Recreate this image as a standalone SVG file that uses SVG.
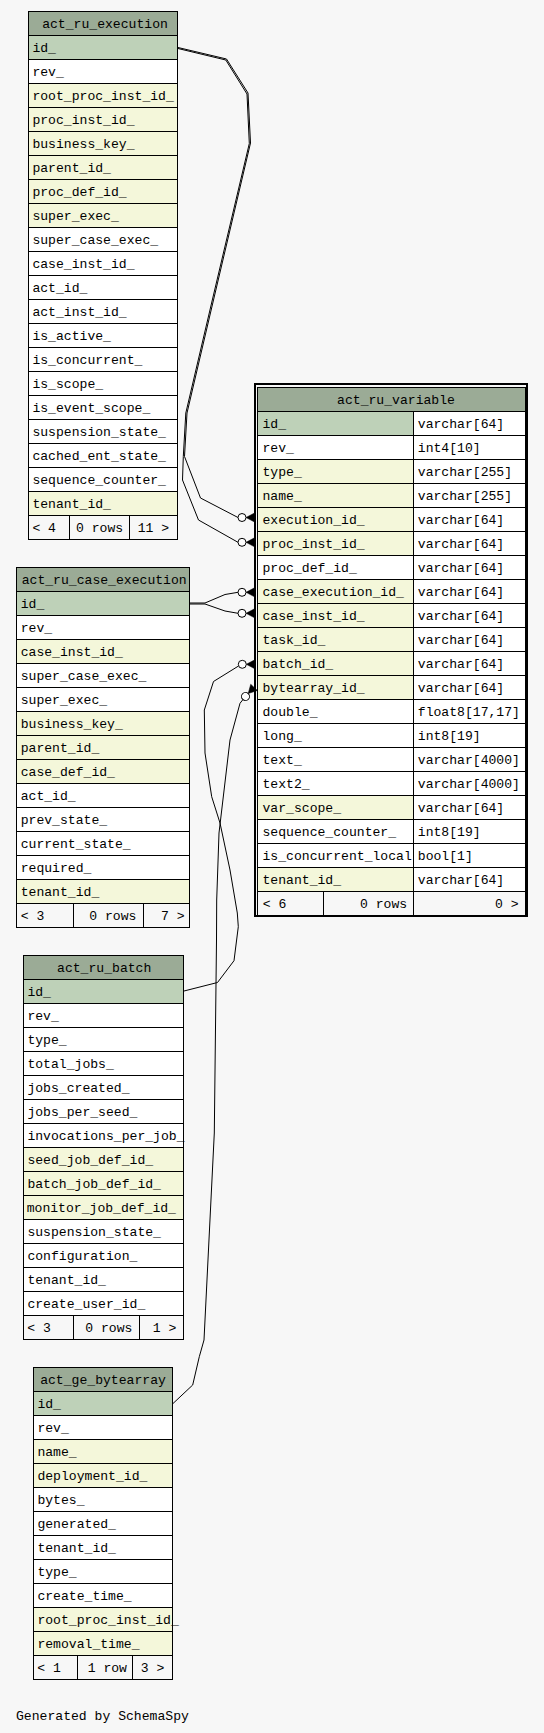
<svg xmlns="http://www.w3.org/2000/svg" xmlns:xlink="http://www.w3.org/1999/xlink" width="544" height="1733" viewBox="0 0 544 1733">
<style>
.tbl rect{stroke:#000;stroke-width:1}
.h{fill:#9bab96}
.pk{fill:#bed1b8}
.ix{fill:#f4f7da}
.w{fill:#ffffff}
.f{fill:#f7f7f7}
text{font-family:"Liberation Mono","DejaVu Sans Mono",monospace;font-size:13.1px;fill:#000}
.m{text-anchor:middle}
#edges path{fill:none;stroke:#000;stroke-width:1;stroke-linejoin:round}
</style>
<defs>
<g id="co"><path d="M4,0 L12.5,-4.5 L12.5,4.5 Z" fill="#000" stroke="#000" stroke-width="0.5"/><circle cx="0" cy="0" r="4" fill="#ffffff" stroke="#000" stroke-width="1"/></g>
</defs>
<rect x="0" y="0" width="544" height="1733" fill="#f7f7f7"/>

<g id="edges">
<path d="M178,47.5 L226.5,59 L248,93 L250.5,143 L213.5,300 L187,413 L184.5,456.5 L200.5,498 L238,517.5"/>
<path d="M178,48.5 L225.8,60 L247,94 L249.3,143.5 L212.3,300 L185.8,413 L183.3,456.5 L182.5,480 L198.5,520 L238,542.3"/>
<path d="M189.5,603 L205,603 L225,594.5 L238,592.3"/>
<path d="M189.5,604 L205,604 L225,611 L238,613.3"/>
<path d="M184,991 L217.5,982.5 L234,960.7 L238.3,926.7 L237.3,913 L230,870 L220,823 L211.7,796.7 L205,753 L204.3,710 L213.5,681.5 L238.5,666"/>
<path d="M173,1403.5 L192.7,1385 L199.3,1356.7 L204,1340 L214.3,1133 L216.5,940 L216.7,900 L219,833 L230,740 L240,703.3 L243,699.5"/>
<use xlink:href="#co" href="#co" transform="translate(242,517.5)"/>
<use xlink:href="#co" href="#co" transform="translate(242,542.3)"/>
<use xlink:href="#co" href="#co" transform="translate(242,592.3)"/>
<use xlink:href="#co" href="#co" transform="translate(242,613.3)"/>
<use xlink:href="#co" href="#co" transform="translate(242.3,664.3)"/>
<use xlink:href="#co" href="#co" transform="translate(245.5,696.5) rotate(-47)"/>
</g>

<g id="act_ru_execution" class="tbl">
<rect class="h" x="28.5" y="11.5" width="149" height="24"/>
<rect class="pk" x="28.5" y="35.5" width="149" height="24"/>
<rect class="w" x="28.5" y="59.5" width="149" height="24"/>
<rect class="ix" x="28.5" y="83.5" width="149" height="24"/>
<rect class="ix" x="28.5" y="107.5" width="149" height="24"/>
<rect class="ix" x="28.5" y="131.5" width="149" height="24"/>
<rect class="ix" x="28.5" y="155.5" width="149" height="24"/>
<rect class="ix" x="28.5" y="179.5" width="149" height="24"/>
<rect class="ix" x="28.5" y="203.5" width="149" height="24"/>
<rect class="w" x="28.5" y="227.5" width="149" height="24"/>
<rect class="w" x="28.5" y="251.5" width="149" height="24"/>
<rect class="w" x="28.5" y="275.5" width="149" height="24"/>
<rect class="w" x="28.5" y="299.5" width="149" height="24"/>
<rect class="w" x="28.5" y="323.5" width="149" height="24"/>
<rect class="w" x="28.5" y="347.5" width="149" height="24"/>
<rect class="w" x="28.5" y="371.5" width="149" height="24"/>
<rect class="w" x="28.5" y="395.5" width="149" height="24"/>
<rect class="w" x="28.5" y="419.5" width="149" height="24"/>
<rect class="w" x="28.5" y="443.5" width="149" height="24"/>
<rect class="w" x="28.5" y="467.5" width="149" height="24"/>
<rect class="ix" x="28.5" y="491.5" width="149" height="24"/>
<rect class="f" x="28.5" y="515.5" width="41" height="24"/>
<rect class="f" x="69.5" y="515.5" width="60" height="24"/>
<rect class="f" x="129.5" y="515.5" width="48" height="24"/>
<text class="m" x="105" y="27.5">act_ru_execution</text>
<text x="32.4" y="52">id_</text>
<text x="32.4" y="76">rev_</text>
<text x="32.4" y="100">root_proc_inst_id_</text>
<text x="32.4" y="124">proc_inst_id_</text>
<text x="32.4" y="148">business_key_</text>
<text x="32.4" y="172">parent_id_</text>
<text x="32.4" y="196">proc_def_id_</text>
<text x="32.4" y="220">super_exec_</text>
<text x="32.4" y="244">super_case_exec_</text>
<text x="32.4" y="268">case_inst_id_</text>
<text x="32.4" y="292">act_id_</text>
<text x="32.4" y="316">act_inst_id_</text>
<text x="32.4" y="340">is_active_</text>
<text x="32.4" y="364">is_concurrent_</text>
<text x="32.4" y="388">is_scope_</text>
<text x="32.4" y="412">is_event_scope_</text>
<text x="32.4" y="436">suspension_state_</text>
<text x="32.4" y="460">cached_ent_state_</text>
<text x="32.4" y="484">sequence_counter_</text>
<text x="32.4" y="508">tenant_id_</text>
<text x="32.4" y="532">&lt; 4</text>
<text x="76" y="532">0 rows</text>
<text x="137.7" y="532">11 &gt;</text>
</g>

<g id="act_ru_variable" class="tbl">
<rect x="255" y="384" width="272" height="532" fill="none" style="stroke-width:2"/>
<rect class="h" x="257.5" y="387.5" width="268" height="24"/>
<rect class="pk" x="257.5" y="411.5" width="156" height="24"/>
<rect class="w" x="257.5" y="435.5" width="156" height="24"/>
<rect class="ix" x="257.5" y="459.5" width="156" height="24"/>
<rect class="ix" x="257.5" y="483.5" width="156" height="24"/>
<rect class="ix" x="257.5" y="507.5" width="156" height="24"/>
<rect class="ix" x="257.5" y="531.5" width="156" height="24"/>
<rect class="w" x="257.5" y="555.5" width="156" height="24"/>
<rect class="ix" x="257.5" y="579.5" width="156" height="24"/>
<rect class="ix" x="257.5" y="603.5" width="156" height="24"/>
<rect class="ix" x="257.5" y="627.5" width="156" height="24"/>
<rect class="ix" x="257.5" y="651.5" width="156" height="24"/>
<rect class="ix" x="257.5" y="675.5" width="156" height="24"/>
<rect class="w" x="257.5" y="699.5" width="156" height="24"/>
<rect class="w" x="257.5" y="723.5" width="156" height="24"/>
<rect class="w" x="257.5" y="747.5" width="156" height="24"/>
<rect class="w" x="257.5" y="771.5" width="156" height="24"/>
<rect class="ix" x="257.5" y="795.5" width="156" height="24"/>
<rect class="w" x="257.5" y="819.5" width="156" height="24"/>
<rect class="w" x="257.5" y="843.5" width="156" height="24"/>
<rect class="ix" x="257.5" y="867.5" width="156" height="24"/>
<rect class="w" x="413.5" y="411.5" width="112" height="24"/>
<rect class="w" x="413.5" y="435.5" width="112" height="24"/>
<rect class="w" x="413.5" y="459.5" width="112" height="24"/>
<rect class="w" x="413.5" y="483.5" width="112" height="24"/>
<rect class="w" x="413.5" y="507.5" width="112" height="24"/>
<rect class="w" x="413.5" y="531.5" width="112" height="24"/>
<rect class="w" x="413.5" y="555.5" width="112" height="24"/>
<rect class="w" x="413.5" y="579.5" width="112" height="24"/>
<rect class="w" x="413.5" y="603.5" width="112" height="24"/>
<rect class="w" x="413.5" y="627.5" width="112" height="24"/>
<rect class="w" x="413.5" y="651.5" width="112" height="24"/>
<rect class="w" x="413.5" y="675.5" width="112" height="24"/>
<rect class="w" x="413.5" y="699.5" width="112" height="24"/>
<rect class="w" x="413.5" y="723.5" width="112" height="24"/>
<rect class="w" x="413.5" y="747.5" width="112" height="24"/>
<rect class="w" x="413.5" y="771.5" width="112" height="24"/>
<rect class="w" x="413.5" y="795.5" width="112" height="24"/>
<rect class="w" x="413.5" y="819.5" width="112" height="24"/>
<rect class="w" x="413.5" y="843.5" width="112" height="24"/>
<rect class="w" x="413.5" y="867.5" width="112" height="24"/>
<rect class="f" x="257.5" y="891.5" width="66" height="24"/>
<rect class="f" x="323.5" y="891.5" width="90" height="24"/>
<rect class="f" x="413.5" y="891.5" width="112" height="24"/>
<text class="m" x="396" y="403.5">act_ru_variable</text>
<text x="262.5" y="428">id_</text>
<text x="262.5" y="452">rev_</text>
<text x="262.5" y="476">type_</text>
<text x="262.5" y="500">name_</text>
<text x="262.5" y="524">execution_id_</text>
<text x="262.5" y="548">proc_inst_id_</text>
<text x="262.5" y="572">proc_def_id_</text>
<text x="262.5" y="596">case_execution_id_</text>
<text x="262.5" y="620">case_inst_id_</text>
<text x="262.5" y="644">task_id_</text>
<text x="262.5" y="668">batch_id_</text>
<text x="262.5" y="692">bytearray_id_</text>
<text x="262.5" y="716">double_</text>
<text x="262.5" y="740">long_</text>
<text x="262.5" y="764">text_</text>
<text x="262.5" y="788">text2_</text>
<text x="262.5" y="812">var_scope_</text>
<text x="262.5" y="836">sequence_counter_</text>
<text x="262.5" y="860">is_concurrent_local</text>
<text x="262.5" y="884">tenant_id_</text>
<text x="417.8" y="428">varchar[64]</text>
<text x="417.8" y="452">int4[10]</text>
<text x="417.8" y="476">varchar[255]</text>
<text x="417.8" y="500">varchar[255]</text>
<text x="417.8" y="524">varchar[64]</text>
<text x="417.8" y="548">varchar[64]</text>
<text x="417.8" y="572">varchar[64]</text>
<text x="417.8" y="596">varchar[64]</text>
<text x="417.8" y="620">varchar[64]</text>
<text x="417.8" y="644">varchar[64]</text>
<text x="417.8" y="668">varchar[64]</text>
<text x="417.8" y="692">varchar[64]</text>
<text x="417.8" y="716">float8[17,17]</text>
<text x="417.8" y="740">int8[19]</text>
<text x="417.8" y="764">varchar[4000]</text>
<text x="417.8" y="788">varchar[4000]</text>
<text x="417.8" y="812">varchar[64]</text>
<text x="417.8" y="836">int8[19]</text>
<text x="417.8" y="860">bool[1]</text>
<text x="417.8" y="884">varchar[64]</text>
<text x="262.7" y="908">&lt; 6</text>
<text x="360" y="908">0 rows</text>
<text x="495" y="908">0 &gt;</text>
</g>

<g id="act_ru_case_execution" class="tbl">
<rect class="h" x="16.5" y="567.5" width="173" height="24"/>
<rect class="pk" x="16.5" y="591.5" width="173" height="24"/>
<rect class="w" x="16.5" y="615.5" width="173" height="24"/>
<rect class="ix" x="16.5" y="639.5" width="173" height="24"/>
<rect class="w" x="16.5" y="663.5" width="173" height="24"/>
<rect class="w" x="16.5" y="687.5" width="173" height="24"/>
<rect class="ix" x="16.5" y="711.5" width="173" height="24"/>
<rect class="ix" x="16.5" y="735.5" width="173" height="24"/>
<rect class="ix" x="16.5" y="759.5" width="173" height="24"/>
<rect class="w" x="16.5" y="783.5" width="173" height="24"/>
<rect class="w" x="16.5" y="807.5" width="173" height="24"/>
<rect class="w" x="16.5" y="831.5" width="173" height="24"/>
<rect class="w" x="16.5" y="855.5" width="173" height="24"/>
<rect class="ix" x="16.5" y="879.5" width="173" height="24"/>
<rect class="f" x="16.5" y="903.5" width="57" height="24"/>
<rect class="f" x="73.5" y="903.5" width="70" height="24"/>
<rect class="f" x="143.5" y="903.5" width="46" height="24"/>
<text class="m" x="104.2" y="583.5">act_ru_case_execution</text>
<text x="20.7" y="608">id_</text>
<text x="20.7" y="632">rev_</text>
<text x="20.7" y="656">case_inst_id_</text>
<text x="20.7" y="680">super_case_exec_</text>
<text x="20.7" y="704">super_exec_</text>
<text x="20.7" y="728">business_key_</text>
<text x="20.7" y="752">parent_id_</text>
<text x="20.7" y="776">case_def_id_</text>
<text x="20.7" y="800">act_id_</text>
<text x="20.7" y="824">prev_state_</text>
<text x="20.7" y="848">current_state_</text>
<text x="20.7" y="872">required_</text>
<text x="20.7" y="896">tenant_id_</text>
<text x="20.7" y="920">&lt; 3</text>
<text x="89.3" y="920">0 rows</text>
<text x="161" y="920">7 &gt;</text>
</g>

<g id="act_ru_batch" class="tbl">
<rect class="h" x="23.5" y="955.5" width="160" height="24"/>
<rect class="pk" x="23.5" y="979.5" width="160" height="24"/>
<rect class="w" x="23.5" y="1003.5" width="160" height="24"/>
<rect class="w" x="23.5" y="1027.5" width="160" height="24"/>
<rect class="w" x="23.5" y="1051.5" width="160" height="24"/>
<rect class="w" x="23.5" y="1075.5" width="160" height="24"/>
<rect class="w" x="23.5" y="1099.5" width="160" height="24"/>
<rect class="w" x="23.5" y="1123.5" width="160" height="24"/>
<rect class="ix" x="23.5" y="1147.5" width="160" height="24"/>
<rect class="ix" x="23.5" y="1171.5" width="160" height="24"/>
<rect class="ix" x="23.5" y="1195.5" width="160" height="24"/>
<rect class="w" x="23.5" y="1219.5" width="160" height="24"/>
<rect class="w" x="23.5" y="1243.5" width="160" height="24"/>
<rect class="w" x="23.5" y="1267.5" width="160" height="24"/>
<rect class="w" x="23.5" y="1291.5" width="160" height="24"/>
<rect class="f" x="23.5" y="1315.5" width="50" height="24"/>
<rect class="f" x="73.5" y="1315.5" width="66" height="24"/>
<rect class="f" x="139.5" y="1315.5" width="44" height="24"/>
<text class="m" x="104.2" y="971.5">act_ru_batch</text>
<text x="27.4" y="996">id_</text>
<text x="27.4" y="1020">rev_</text>
<text x="27.4" y="1044">type_</text>
<text x="27.4" y="1068">total_jobs_</text>
<text x="27.4" y="1092">jobs_created_</text>
<text x="27.4" y="1116">jobs_per_seed_</text>
<text x="27.4" y="1140">invocations_per_job_</text>
<text x="27.4" y="1164">seed_job_def_id_</text>
<text x="27.4" y="1188">batch_job_def_id_</text>
<text x="26.7" y="1212">monitor_job_def_id_</text>
<text x="27.4" y="1236">suspension_state_</text>
<text x="27.4" y="1260">configuration_</text>
<text x="27.4" y="1284">tenant_id_</text>
<text x="27.4" y="1308">create_user_id_</text>
<text x="27.3" y="1332">&lt; 3</text>
<text x="85.3" y="1332">0 rows</text>
<text x="152.7" y="1332">1 &gt;</text>
</g>

<g id="act_ge_bytearray" class="tbl">
<rect class="h" x="33.5" y="1367.5" width="139" height="24"/>
<rect class="pk" x="33.5" y="1391.5" width="139" height="24"/>
<rect class="w" x="33.5" y="1415.5" width="139" height="24"/>
<rect class="ix" x="33.5" y="1439.5" width="139" height="24"/>
<rect class="ix" x="33.5" y="1463.5" width="139" height="24"/>
<rect class="w" x="33.5" y="1487.5" width="139" height="24"/>
<rect class="w" x="33.5" y="1511.5" width="139" height="24"/>
<rect class="w" x="33.5" y="1535.5" width="139" height="24"/>
<rect class="w" x="33.5" y="1559.5" width="139" height="24"/>
<rect class="w" x="33.5" y="1583.5" width="139" height="24"/>
<rect class="ix" x="33.5" y="1607.5" width="139" height="24"/>
<rect class="ix" x="33.5" y="1631.5" width="139" height="24"/>
<rect class="f" x="33.5" y="1655.5" width="44" height="24"/>
<rect class="f" x="77.5" y="1655.5" width="55" height="24"/>
<rect class="f" x="132.5" y="1655.5" width="40" height="24"/>
<text class="m" x="103" y="1383.5">act_ge_bytearray</text>
<text x="37.4" y="1408">id_</text>
<text x="37.4" y="1432">rev_</text>
<text x="37.4" y="1456">name_</text>
<text x="37.4" y="1480">deployment_id_</text>
<text x="37.4" y="1504">bytes_</text>
<text x="37.4" y="1528">generated_</text>
<text x="37.4" y="1552">tenant_id_</text>
<text x="37.4" y="1576">type_</text>
<text x="37.4" y="1600">create_time_</text>
<text x="37.4" y="1624">root_proc_inst_id_</text>
<text x="37.4" y="1648">removal_time_</text>
<text x="37.3" y="1672">&lt; 1</text>
<text x="87.7" y="1672">1 row</text>
<text x="140.7" y="1672">3 &gt;</text>
</g>

<text x="16" y="1720">Generated by SchemaSpy</text>
</svg>
